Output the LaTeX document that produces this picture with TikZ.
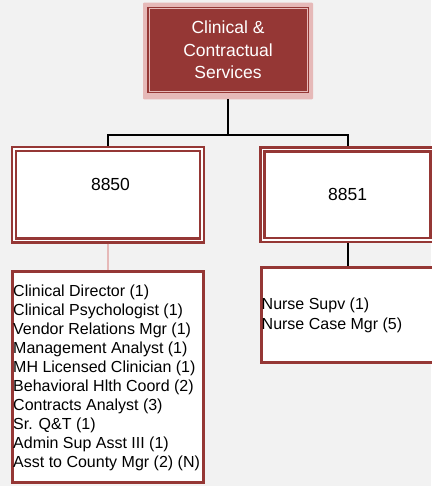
\documentclass[tikz,border=0pt]{standalone}
\usepackage{fontspec}
\setmainfont{Liberation Sans}
\definecolor{dred}{HTML}{953735}
\definecolor{lpink}{HTML}{E6B9B8}
\definecolor{bgc}{HTML}{F2F2F2}
\begin{document}
\begin{tikzpicture}[x=1pt,y=-1pt,
  conn/.style={draw=black, line width=2pt},
  unitbox/.style={draw=dred, line width=2.4pt, double=white, double distance=1.6pt, fill=white, inner sep=0pt, outer sep=3.2pt, rectangle},
  listbox/.style={draw=dred, line width=3pt, fill=white, inner sep=0pt, rectangle},
  numtext/.style={inner sep=0pt, font=\fontsize{17.5}{21}\selectfont, text=black},
  listtext/.style={inner sep=0pt, align=left, text=black},
]
\useasboundingbox[fill=bgc] (0,0) rectangle (431,486);
% title
\node[rectangle, fill=lpink, rounded corners=1pt, minimum width=170pt, minimum height=96.6pt, inner sep=0pt, outer sep=0pt] (title) at (228,51) {};
\node[rectangle, fill=dred, draw=dred, line width=1.2pt, double=lpink, double distance=0.8pt, minimum width=158pt, minimum height=83.3pt, inner sep=0pt] (titleinner) at (228,50.25) {};
\node[inner sep=0pt, align=center, text=white, font=\fontsize{17.5}{22.8}\selectfont] (ttext) at (228,49.9) {Clinical \&\\Contractual\\Services};
% units
\node[unitbox, minimum width=187.6pt, minimum height=91.1pt] (b8850) at (108,194.75) {};
\node[unitbox, minimum width=170pt, minimum height=90.5pt] (b8851) at (347.5,194.75) {};
\node[numtext, anchor=base] (t8850) at (110.5,190) {8850};
\node[numtext, anchor=base] (t8851) at (347.7,200.8) {8851};
% lists
\node[listbox, minimum width=190.8pt, minimum height=211pt] (list8850) at (107.9,376.8) {};
\node[listbox, minimum width=172.2pt, minimum height=95.4pt] (list8851) at (347.4,315) {};
\node[listtext, anchor=west, font=\fontsize{16}{19}\selectfont] (l8850) at (13,377.8) {Clinical Director (1)\\Clinical Psychologist (1)\\Vendor Relations Mgr (1)\\Management Analyst (1)\\MH Licensed Clinician (1)\\Behavioral Hlth Coord (2)\\Contracts Analyst (3)\\Sr. Q\&T (1)\\Admin Sup Asst III (1)\\Asst to County Mgr (2) (N)};
\node[listtext, anchor=west, font=\fontsize{16}{19.5}\selectfont] (l8851) at (261.5,315.4) {Nurse Supv (1)\\Nurse Case Mgr (5)};
% connectors
\coordinate (bus) at (228,135);
\draw[conn] (title.south) -- (bus) -| (b8850.north);
\draw[conn] (bus) -| (b8851.north);
\draw[conn, draw=lpink] (b8850.south) -- (b8850.south |- list8850.north);
\draw[conn] (b8851.south) -- (b8851.south |- list8851.north);
\end{tikzpicture}
\end{document}
